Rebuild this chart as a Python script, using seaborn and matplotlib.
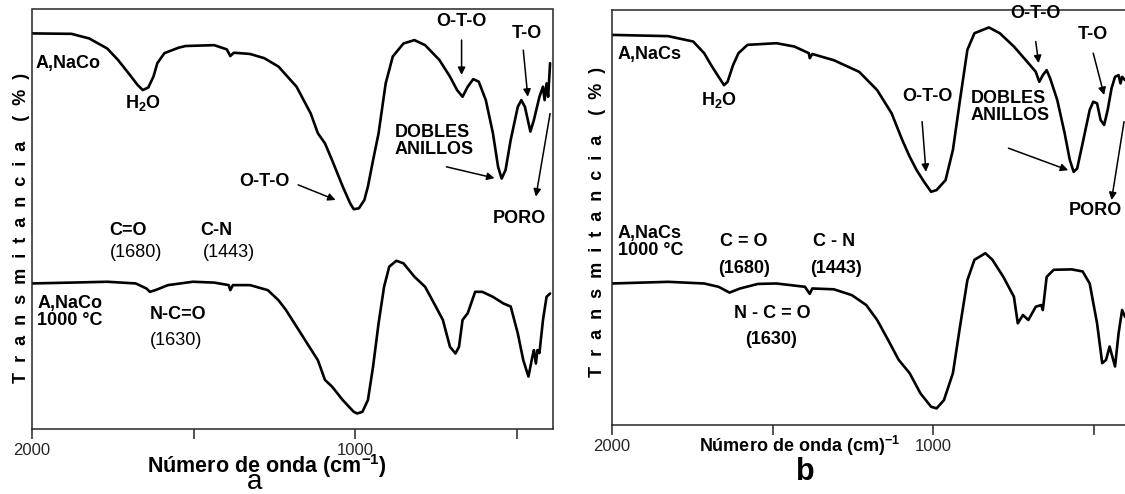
import numpy as np
import pandas as pd
import seaborn as sns
import matplotlib
matplotlib.use("Agg")
import matplotlib.pyplot as plt

sns.set_style("ticks")
plt.rcParams['font.family'] = ['Liberation Sans', 'DejaVu Sans']
plt.rcParams['mathtext.fontset'] = 'custom'
plt.rcParams['mathtext.rm'] = 'Liberation Sans'
plt.rcParams['mathtext.bf'] = 'Liberation Sans:bold'

# ---------------- data (wavenumber cm-1, transmittance a.u.) ----------------
a_top_w = [2000, 1878, 1823, 1767, 1734, 1701, 1673, 1657, 1640, 1624, 1612, 1590, 1546, 1524,
           1436, 1397, 1386, 1375, 1325, 1281, 1237, 1181, 1137, 1115, 1093, 1071, 1038, 1015,
           1004, 988, 971, 960, 944, 927, 905, 883, 850, 816, 783, 739, 706, 684, 667, 651,
           634, 617, 595, 573, 557, 546, 534, 518, 496, 485, 474, 457, 446, 429, 418, 413,
           407, 402, 396]
a_top_t = [94.3, 94.2, 93.1, 90.7, 88.0, 84.8, 82.0, 80.8, 81.4, 84.0, 87.2, 89.6, 90.9, 91.3,
           91.5, 90.5, 88.9, 89.7, 89.4, 88.4, 86.4, 81.6, 75.2, 70.5, 68.1, 64.1, 57.8, 53.8,
           52.4, 52.6, 54.6, 57.8, 64.1, 70.5, 82.4, 88.8, 91.9, 92.7, 91.5, 88.0, 84.0, 80.8,
           79.2, 81.6, 83.4, 82.8, 78.4, 70.5, 62.5, 59.7, 61.7, 68.9, 76.8, 78.4, 76.8, 70.9,
           73.7, 79.2, 81.6, 78.4, 82.4, 79.2, 87.2]

a_bot_w = [2000, 1878, 1767, 1679, 1646, 1635, 1618, 1579, 1502, 1436, 1391, 1386, 1378, 1325,
           1270, 1237, 1214, 1181, 1148, 1115, 1093, 1071, 1038, 1004, 993, 977, 960, 944, 927,
           910, 894, 872, 850, 816, 783, 750, 728, 706, 689, 678, 667, 651, 628, 606, 573, 540,
           518, 496, 479, 463, 451, 446, 440, 435, 429, 418, 407, 396]
a_bot_t = [34.7, 34.9, 35.1, 34.7, 33.5, 32.7, 33.1, 34.3, 35.1, 34.9, 34.3, 33.1, 34.3, 34.3,
           33.1, 30.7, 28.4, 24.4, 20.4, 16.4, 11.7, 10.1, 6.9, 4.1, 3.7, 4.1, 6.9, 14.9, 25.2,
           33.9, 38.7, 40.1, 39.5, 36.3, 33.9, 29.2, 26.0, 19.6, 18.0, 19.6, 26.0, 27.6, 32.7,
           32.7, 31.5, 29.9, 29.2, 22.8, 16.4, 12.5, 17.2, 18.8, 15.6, 18.8, 18.1, 26.0, 31.5,
           32.3]

b_top_w = [2000, 1825, 1747, 1713, 1691, 1668, 1651, 1640, 1623, 1606, 1578, 1488, 1432, 1387,
           1384, 1376, 1309, 1230, 1174, 1129, 1096, 1073, 1051, 1028, 1006, 989, 961, 938,
           916, 893, 871, 826, 792, 748, 703, 680, 669, 658, 646, 635, 613, 590, 574, 562,
           551, 534, 512, 501, 489, 478, 467, 456, 444, 433, 422, 416, 411, 402]
b_top_t = [94.0, 93.7, 92.4, 89.6, 86.7, 83.9, 81.9, 82.7, 86.7, 89.6, 91.6, 92.0, 91.2, 89.6,
           88.4, 89.4, 87.9, 85.1, 80.7, 75.1, 68.7, 64.7, 61.4, 58.6, 56.2, 56.6, 59.0, 66.3,
           78.3, 90.4, 94.4, 95.8, 94.4, 91.2, 87.2, 85.1, 82.7, 84.3, 85.5, 83.5, 78.3, 70.3,
           63.9, 61.0, 61.8, 67.9, 75.9, 77.9, 77.5, 73.5, 72.3, 75.9, 81.1, 83.9, 84.3, 82.3,
           83.9, 83.1]

b_bot_w = [2000, 1825, 1713, 1668, 1634, 1601, 1545, 1488, 1399, 1384, 1376, 1309, 1253, 1208,
           1174, 1140, 1107, 1073, 1039, 1006, 989, 966, 938, 916, 893, 871, 837, 815, 781,
           748, 736, 720, 703, 680, 663, 658, 646, 624, 568, 534, 512, 489, 473, 461, 450,
           433, 422, 411, 402]
b_bot_t = [34.1, 34.5, 34.1, 33.3, 31.9, 32.9, 34.0, 34.1, 33.3, 31.6, 32.9, 32.7, 31.3, 28.9,
           25.3, 20.5, 15.7, 12.5, 7.6, 4.4, 4.0, 6.0, 12.5, 23.7, 34.9, 39.8, 41.4, 39.8, 35.7,
           30.9, 24.5, 26.5, 25.3, 28.5, 28.9, 27.7, 35.7, 37.4, 37.5, 37.0, 34.1, 24.5, 14.9,
           15.7, 18.9, 14.1, 22.1, 27.7, 26.1]

x_ticks = [2000, 1500, 1000, 500]
x_ticklabels = ["2000", "", "1000", ""]

W, H = 1125, 494
fig = plt.figure(figsize=(W / 100, H / 100), dpi=100)
axA = fig.add_axes([32 / W, 1 - 429 / H, 521 / W, 419.5 / H])
axB = fig.add_axes([612 / W, 1 - 425 / H, 513 / W, 415 / H])

lw = 1.9
for ax, tw, tt, bw, bt in [(axA, a_top_w, a_top_t, a_bot_w, a_bot_t),
                           (axB, b_top_w, b_top_t, b_bot_w, b_bot_t)]:
    sns.lineplot(x=tw, y=tt, sort=False, estimator=None, color='black', lw=lw, ax=ax)
    sns.lineplot(x=bw, y=bt, sort=False, estimator=None, color='black', lw=lw, ax=ax)
    ax.set_ylim(0, 100)
    ax.set_yticks([])
    ax.set_xticks(x_ticks)
    ax.set_xticklabels(x_ticklabels, fontsize=12)
    ax.tick_params(axis='x', direction='out', length=7, width=1.1, pad=3)
    for s in ax.spines.values():
        s.set_linewidth(1.1)
        s.set_visible(True)
    ax.set_xlabel("")
    ax.set_ylabel("")

axA.set_xlim(2000, 387)
axB.set_xlim(2000, 402)
axB.spines['right'].set_visible(False)

bold = dict(fontsize=13, fontweight='bold', color='black')
reg = dict(fontsize=13, color='black')
arr = dict(arrowstyle='-|>', color='black', lw=1.1, mutation_scale=11, shrinkA=0, shrinkB=0)


def txt(ax, s, x, y, ha='center', style=bold, clip=False):
    ax.text(x, y, s, ha=ha, va='center', linespacing=1.0, clip_on=clip, **style)


def arrow(ax, x0, y0, x1, y1):
    ax.annotate('', xy=(x1, y1), xytext=(x0, y0), arrowprops=arr, annotation_clip=False)


# panel a annotations
txt(axA, "A,NaCo", 1988, 87.2, ha='left')
txt(axA, r"H$_{\mathbf{2}}$O", 1657, 77.6)
txt(axA, "O-T-O", 1281, 58.9)
arrow(axA, 1176, 58.2, 1060, 54.6)
txt(axA, "O-T-O", 670, 97.1)
arrow(axA, 670, 92.7, 670, 84.4)
txt(axA, "T-O", 468, 94.3)
arrow(axA, 479, 90.3, 465, 79.2)
txt(axA, "DOBLES\nANILLOS", 877, 68.7, ha='left')
arrow(axA, 717, 62.5, 568, 59.8)
txt(axA, "PORO", 490, 50.2)
arrow(axA, 396, 75.2, 440, 55.4)
txt(axA, "C=O", 1704, 47.4)
txt(axA, "(1680)", 1679, 42.0, style=reg)
txt(axA, "C-N", 1428, 47.4)
txt(axA, "(1443)", 1389, 42.0, style=reg)
txt(axA, "A,NaCo\n1000 °C", 1983, 27.9, ha='left')
txt(axA, "N-C=O", 1549, 27.2)
txt(axA, "(1630)", 1555, 21.2, style=reg)

# panel b annotations
txt(axB, "A,NaCs", 1982, 89.2, ha='left')
txt(axB, r"H$_{\mathbf{2}}$O", 1668, 78.3)
txt(axB, "O-T-O", 1017, 79.1)
arrow(axB, 1034, 73.1, 1022, 61.0)
txt(axB, "O-T-O", 680, 99.2)
arrow(axB, 680, 92.4, 671, 87.2)
txt(axB, "T-O", 501, 94.0)
arrow(axB, 501, 89.6, 467, 79.5)
txt(axB, "DOBLES\nANILLOS", 882, 76.6, ha='left')
arrow(axB, 765, 66.7, 579, 61.4)
txt(axB, "PORO", 495, 51.8)
arrow(axB, 405, 73.1, 444, 54.2)
txt(axB, "A,NaCs\n1000 °C", 1982, 44.1, ha='left')
txt(axB, "C = O", 1589, 44.2)
txt(axB, "(1680)", 1589, 37.8)
txt(axB, "C - N", 1309, 44.2)
txt(axB, "(1443)", 1303, 37.8)
txt(axB, "N - C = O", 1500, 26.9)
txt(axB, "(1630)", 1505, 20.5)

ylab = "T  r  a  n  s  m  i  t  a  n  c  i  a    (  %  )"
fig.text(22 / W, 1 - 228 / H, ylab, rotation=90, ha='center', va='center', **bold)
fig.text(598 / W, 1 - 222 / H, ylab, rotation=90, ha='center', va='center', **bold)

fig.text(267 / W, 1 - 466 / H, r"Número de onda (cm$^{\mathbf{-1}}$)", ha='center', va='center',
         fontsize=15.5, fontweight='bold', color='black')
fig.text(255 / W, 1 - 482 / H, "a", ha='center', va='center', fontsize=20, color='black')
fig.text(800 / W, 1 - 446 / H, r"Número de onda (cm)$^{\mathbf{-1}}$", ha='center', va='center', **bold)
fig.text(805 / W, 1 - 472 / H, "b", ha='center', va='center', fontsize=22, fontweight='bold', color='black')

fig.savefig("out.png", dpi=100, facecolor='white')
